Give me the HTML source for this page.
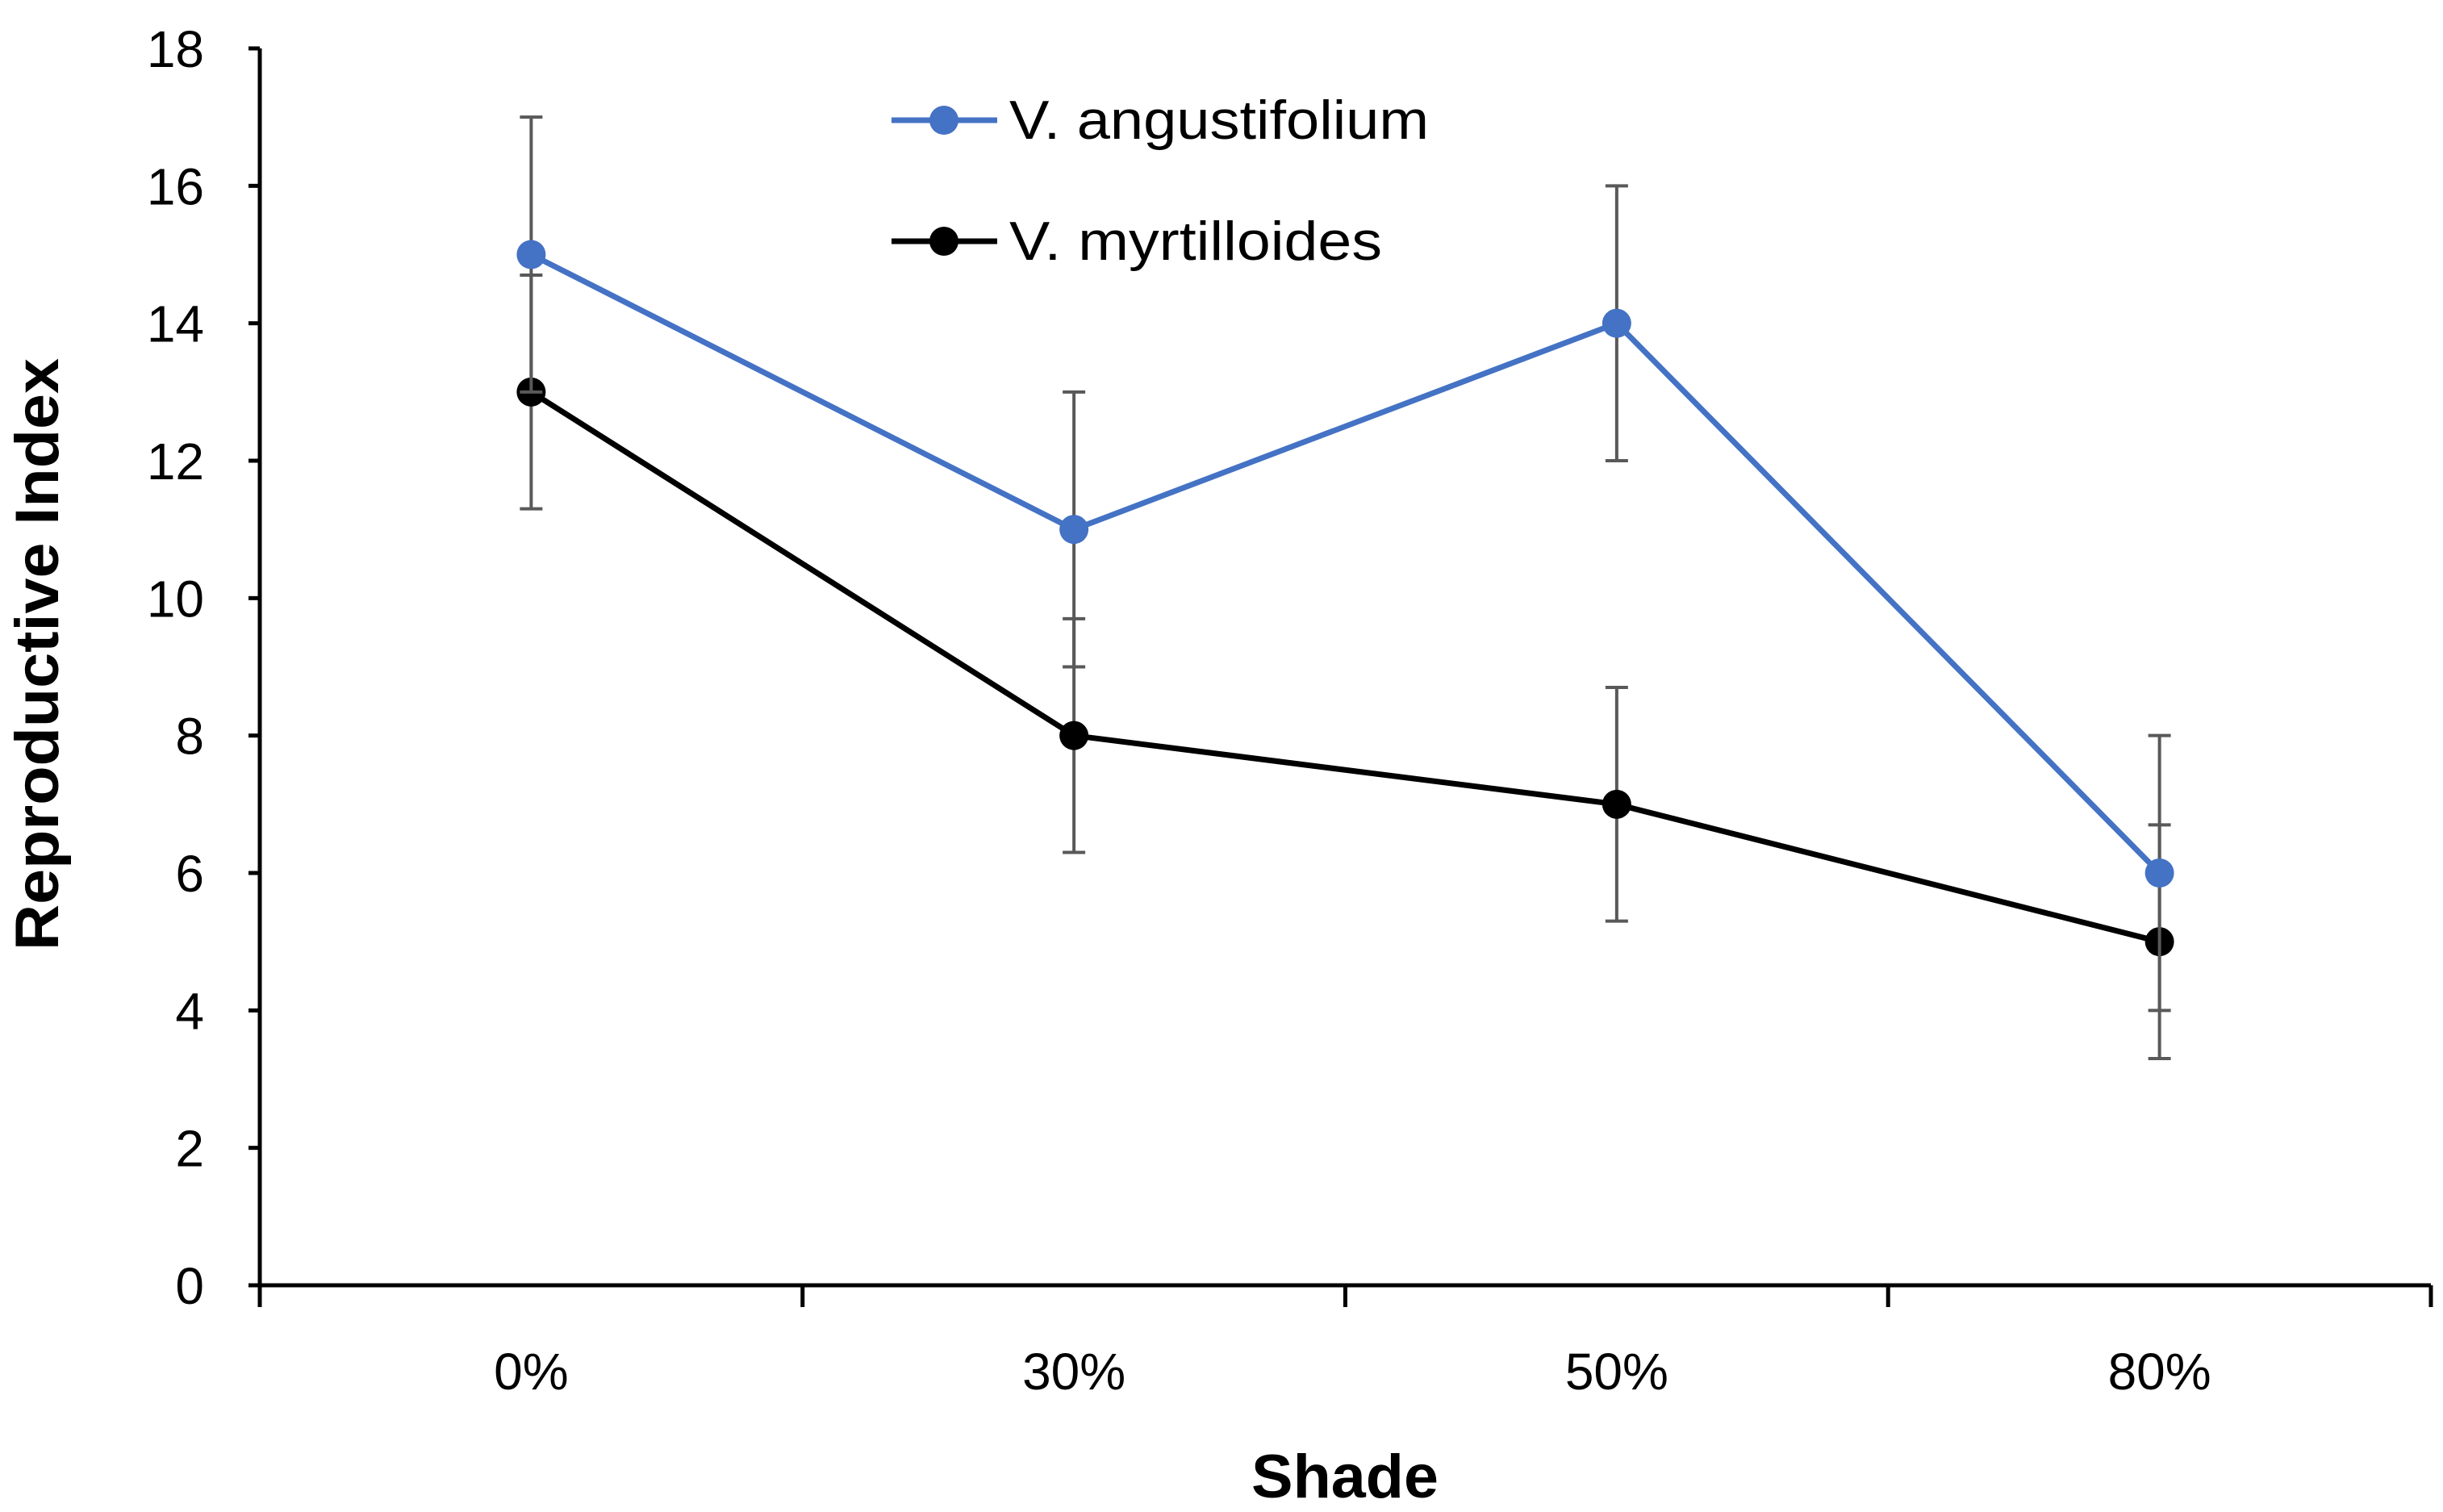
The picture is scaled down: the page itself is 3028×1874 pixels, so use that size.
<!DOCTYPE html>
<html><head><meta charset="utf-8"><style>
html,body{margin:0;padding:0;background:#fff}
svg{display:block}
text{font-family:"Liberation Sans",sans-serif}
</style></head><body>
<svg id="chart" width="3028" height="1874" viewBox="0 0 3028 1874" xmlns="http://www.w3.org/2000/svg">
<g id="axes"></g><g id="series"></g>
<g>
 <g>
  <line x1="1105" y1="149" x2="1236" y2="149" stroke="#4472C4" stroke-width="7"/>
  <circle cx="1170" cy="149" r="18" fill="#4472C4"/>
  <text x="1251" y="172" font-size="68" fill="#000" textLength="520" lengthAdjust="spacingAndGlyphs">V. angustifolium</text>
 </g>
 <g>
  <line x1="1105" y1="299" x2="1236" y2="299" stroke="#000" stroke-width="7"/>
  <circle cx="1170" cy="299" r="18" fill="#000"/>
  <text x="1251" y="322" font-size="68" fill="#000" textLength="462" lengthAdjust="spacingAndGlyphs">V. myrtilloides</text>
 </g>
</g>
<text x="1667" y="1856" font-size="76" font-weight="bold" text-anchor="middle" textLength="232" lengthAdjust="spacingAndGlyphs">Shade</text>
<text transform="translate(72,811) rotate(-90)" font-size="76" font-weight="bold" text-anchor="middle" textLength="734" lengthAdjust="spacingAndGlyphs">Reproductive Index</text>
</svg>
<script>
const categories = ["0%","30%","50%","80%"];
const angustValues = [15,11,14,6];
const angustErrors = [2,2,2,2];
const myrtValues = [13,8,7,5];
const myrtErrors = [1.7,1.7,1.7,1.7];
const yTicks = [0,2,4,6,8,10,12,14,16,18];

const NS="http://www.w3.org/2000/svg";
const X0=322,X1=3013,Y0=1593,Y18=60,YMAX=18;
const band=(X1-X0)/categories.length;
function xPos(i){return X0+band*(i+0.5);}
function yPos(v){return Y0-(Y0-Y18)*v/YMAX;}
function mk(tag,attrs,parent){const e=document.createElementNS(NS,tag);for(const k in attrs)e.setAttribute(k,attrs[k]);parent.appendChild(e);return e;}
const axes=document.getElementById('axes');
const ser=document.getElementById('series');

let ya=mk('line',{x1:X0,y1:Y18,x2:X0,y2:Y0,stroke:'#000','stroke-width':5},axes);


let xa=mk('line',{x1:X0-14,y1:Y0,x2:X1,y2:Y0,stroke:'#000','stroke-width':5},axes);


yTicks.forEach(v=>{
  const y=yPos(v);
  let t=mk('line',{x1:X0-14,y1:y,x2:X0,y2:y,stroke:'#000','stroke-width':5},axes);
  
  
  let l=mk('text',{x:253,y:y+23,'font-size':64,'text-anchor':'end'},axes);
  l.textContent=v;
  
  
});
for(let i=0;i<=categories.length;i++){
  const x=X0+band*i;
  let t=mk('line',{x1:x,y1:Y0,x2:x,y2:Y0+27,stroke:'#000','stroke-width':5},axes);
  
  
}
categories.forEach((c,i)=>{
  let l=mk('text',{x:xPos(i),y:1722,'font-size':64,'text-anchor':'middle'},axes);
  l.textContent=c;
  
  
});
function drawSeries(vals,errs,color,name){
  const g=mk('g',{},ser);
  
  
  const pts=vals.map((v,i)=>xPos(i)+','+yPos(v)).join(' ');
  let pl=mk('polyline',{points:pts,fill:'none',stroke:color,'stroke-width':7},g);
  
  
  vals.forEach((v,i)=>{
    const x=xPos(i),yt=yPos(v+errs[i]),yb=yPos(v-errs[i]);
    const eg=mk('g',{stroke:'#595959','stroke-width':4},g);
    
    
    mk('line',{x1:x,y1:yt,x2:x,y2:yb},eg);
    mk('line',{x1:x-14,y1:yt,x2:x+14,y2:yt},eg);
    mk('line',{x1:x-14,y1:yb,x2:x+14,y2:yb},eg);
  });
  vals.forEach((v,i)=>{
    let c=mk('circle',{cx:xPos(i),cy:yPos(v),r:18,fill:color},g);
    
    
  });
}
drawSeries(myrtValues,myrtErrors,'#000','myrtilloides');
drawSeries(angustValues,angustErrors,'#4472C4','angustifolium');
</script>
</body></html>
